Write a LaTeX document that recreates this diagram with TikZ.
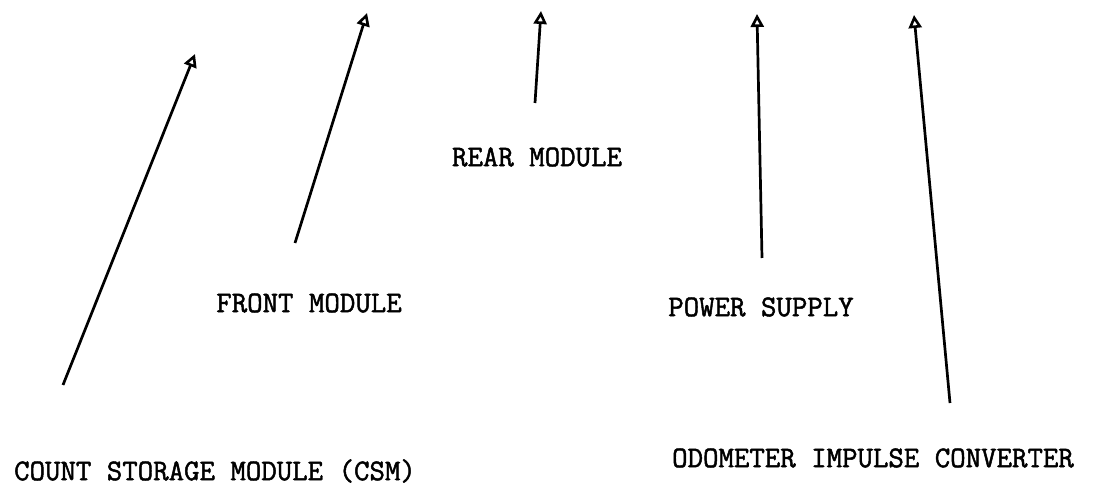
\documentclass[tikz,border=0pt]{standalone}
\usepackage{fontspec}
\setmonofont{Latin Modern Mono}[FakeBold=1.6]
\usetikzlibrary{arrows.meta}
\begin{document}
\begin{tikzpicture}[x=1pt,y=-1pt,
  lbl/.style={font=\ttfamily\fontsize{30}{31}\selectfont, inner sep=0pt, anchor=center},
  pointer/.style={line width=2.7pt, -{Triangle[open, length=13pt, width=13pt, line width=2.6pt]}}]
  \useasboundingbox (0,0) rectangle (1093,486);
  % labels
  \node[lbl] (csm)   at (215,471) {COUNT STORAGE MODULE (CSM)};
  \node[lbl] (front) at (309,303) {FRONT MODULE};
  \node[lbl] (rear)  at (537,157) {REAR MODULE};
  \node[lbl] (power) at (761,307) {POWER SUPPLY};
  \node[lbl] (odo)   at (873,458) {ODOMETER IMPULSE CONVERTER};
  % pointer ends
  \coordinate (csmA) at (63,385);   \coordinate (csmB) at (195,54);
  \coordinate (frA) at (295,243);   \coordinate (frB) at (367,13);
  \coordinate (reA) at (535,103);   \coordinate (reB) at (541,11);
  \coordinate (poA) at (762,258);   \coordinate (poB) at (757,14);
  \coordinate (odA) at (950,403);   \coordinate (odB) at (914,15);
  \draw[pointer] (csmA) -- (csmB);
  \draw[pointer] (frA) -- (frB);
  \draw[pointer] (reA) -- (reB);
  \draw[pointer] (poA) -- (poB);
  \draw[pointer] (odA) -- (odB);
\end{tikzpicture}
\end{document}
